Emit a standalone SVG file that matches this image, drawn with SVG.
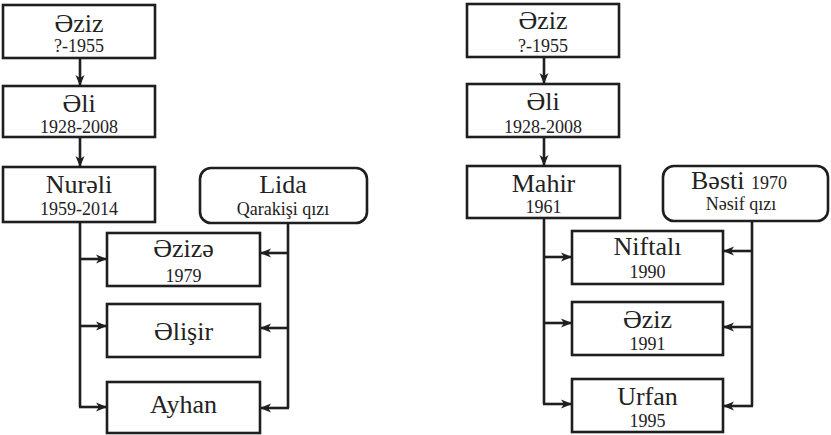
<svg xmlns="http://www.w3.org/2000/svg" width="831" height="435" viewBox="0 0 831 435">
<defs>
<marker id="ah" markerUnits="userSpaceOnUse" markerWidth="12" markerHeight="10" refX="11" refY="5" orient="auto">
<path d="M0,0.5 L11,5 L0,9.5 L3,5 Z" fill="#1e1e1e"/>
</marker>
<style>
.box{fill:#fff;stroke:#1e1e1e;stroke-width:2.6}
.nm{font-size:26px;fill:#222;text-anchor:middle}
.yr{font-size:18px;fill:#222;text-anchor:middle}
.ln{fill:none;stroke:#1e1e1e;stroke-width:2.6}
.ar{fill:none;stroke:#1e1e1e;stroke-width:2.6;marker-end:url(#ah)}
</style>
</defs>
<rect width="831" height="435" fill="#fff"/>
<g id="connectors">
<path class="ar" d="M80,58 V86"/>
<path class="ar" d="M80,137 V167"/>
<path class="ln" d="M80,222 V407"/>
<path class="ar" d="M80,259 H107"/>
<path class="ar" d="M80,326 H107"/>
<path class="ar" d="M79,407 H107"/>
<path class="ln" d="M288,223 V408"/>
<path class="ar" d="M288,253 H260"/>
<path class="ar" d="M288,328 H260"/>
<path class="ar" d="M289,408 H260"/>
<path class="ar" d="M544,57 V84"/>
<path class="ar" d="M544,137 V166"/>
<path class="ln" d="M544,218 V404"/>
<path class="ar" d="M544,257 H572"/>
<path class="ar" d="M544,323 H572"/>
<path class="ar" d="M543,404 H572"/>
<path class="ln" d="M752,221 V406"/>
<path class="ar" d="M752,251 H723"/>
<path class="ar" d="M752,327 H723"/>
<path class="ar" d="M753,406 H723"/>
</g>
<g font-family="'Liberation Serif', 'Times New Roman', serif">
<g id="l-aziz"><rect class="box" x="3" y="5" width="152" height="53"/><text class="nm" x="79" y="32">Əziz</text><text class="yr" x="79" y="52">?-1955</text></g>
<g id="l-ali"><rect class="box" x="3" y="86" width="152" height="51"/><text class="nm" x="79" y="112">Əli</text><text class="yr" x="79" y="133">1928-2008</text></g>
<g id="l-nurali"><rect class="box" x="3" y="167" width="152" height="55"/><text class="nm" x="79" y="193">Nurəli</text><text class="yr" x="79" y="215">1959-2014</text></g>
<g id="l-lida"><rect class="box" x="200" y="168" width="167" height="55" rx="11"/><text class="nm" x="283" y="193">Lida</text><text class="yr" x="283" y="215">Qarakişi qızı</text></g>
<g id="l-aziza"><rect class="box" x="107" y="233" width="153" height="53"/><text class="nm" x="183.5" y="257">Əzizə</text><text class="yr" x="183.5" y="282">1979</text></g>
<g id="l-alisir"><rect class="box" x="107" y="304" width="153" height="53"/><text class="nm" x="183.5" y="340">Əlişir</text></g>
<g id="l-ayhan"><rect class="box" x="107" y="382" width="153" height="51"/><text class="nm" x="183.5" y="413">Ayhan</text></g>
<g id="r-aziz"><rect class="box" x="467" y="4" width="152" height="53"/><text class="nm" x="543" y="29">Əziz</text><text class="yr" x="543" y="52">?-1955</text></g>
<g id="r-ali"><rect class="box" x="467" y="84" width="152" height="53"/><text class="nm" x="543" y="110">Əli</text><text class="yr" x="543" y="133">1928-2008</text></g>
<g id="r-mahir"><rect class="box" x="467" y="166" width="153" height="52"/><text class="nm" x="543.5" y="192">Mahir</text><text class="yr" x="543.5" y="213">1961</text></g>
<g id="r-basti"><rect class="box" x="663" y="166" width="165" height="55" rx="11"/><text class="nm" x="739" y="189">Bəsti <tspan font-size="18">1970</tspan></text><text class="yr" x="741" y="210">Nəsif qızı</text></g>
<g id="r-niftali"><rect class="box" x="572" y="231" width="151" height="53"/><text class="nm" x="647.5" y="255">Niftalı</text><text class="yr" x="647.5" y="278">1990</text></g>
<g id="r-aziz2"><rect class="box" x="572" y="302" width="151" height="53"/><text class="nm" x="647.5" y="328">Əziz</text><text class="yr" x="647.5" y="350">1991</text></g>
<g id="r-urfan"><rect class="box" x="572" y="379" width="151" height="53"/><text class="nm" x="647.5" y="405">Urfan</text><text class="yr" x="647.5" y="427">1995</text></g>
</g>
</svg>
